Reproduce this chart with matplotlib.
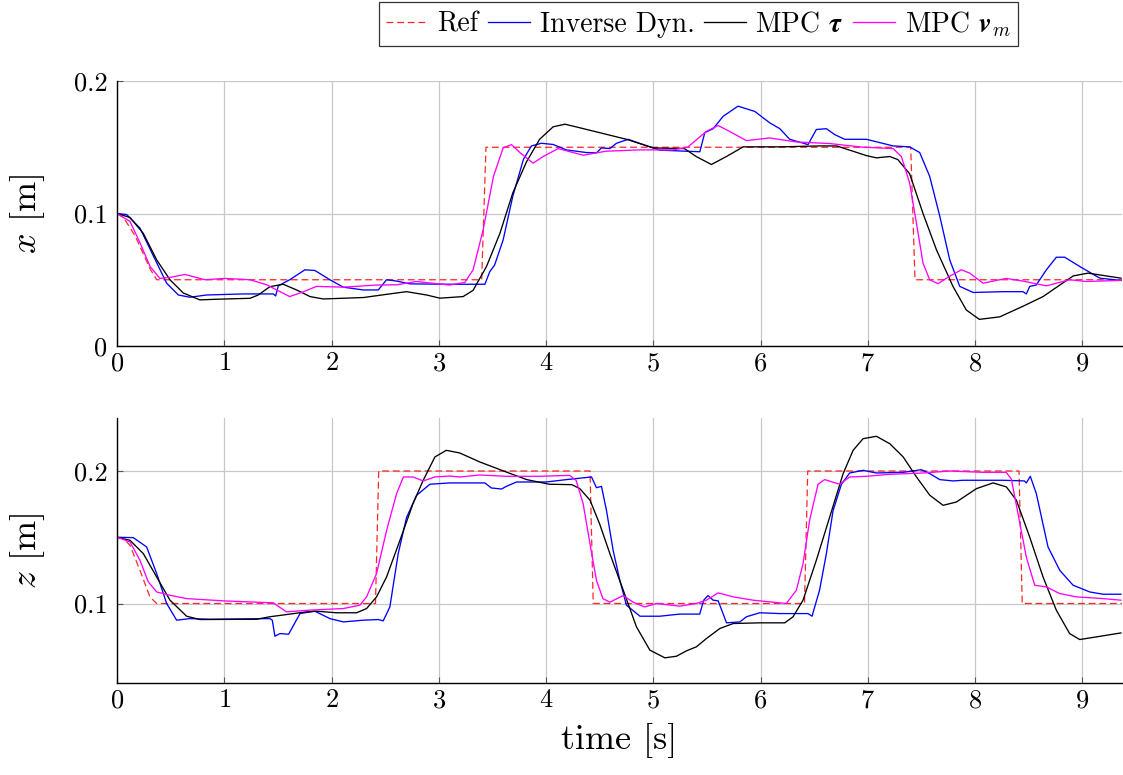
#!/usr/bin/env python3
"""
Tracking of x and z position: reference vs. Inverse Dyn. vs. MPC variants
"""

import matplotlib
matplotlib.use('Agg')
import matplotlib.pyplot as plt
from matplotlib.ticker import FuncFormatter

# ---- x position (top panel) ----
x_ref_t = [0, 0.06, 0.17, 0.31, 0.37, 3.40, 3.44, 7.40, 7.44, 9.37]
x_ref_v = [0.1, 0.097, 0.083, 0.058, 0.05, 0.05, 0.15, 0.15, 0.05, 0.05]

x_inv_t = [0, 0.09, 0.214, 0.339, 0.463, 0.572, 0.68, 0.836, 1.178, 1.457, 1.479, 1.504, 1.61,
           1.752, 1.845, 1.985, 2.11, 2.296, 2.436, 2.513, 2.607, 2.73, 3.10, 3.43, 3.476, 3.52,
           3.60, 3.69, 3.79, 3.864, 3.957, 4.066, 4.19, 4.377, 4.47, 4.517, 4.595, 4.657, 4.766,
           4.906, 5.06, 5.31, 5.434, 5.48, 5.558, 5.652, 5.79, 5.947, 6.086, 6.18, 6.272, 6.443,
           6.52, 6.614, 6.69, 6.785, 6.987, 7.236, 7.39, 7.484, 7.577, 7.671, 7.764, 7.857, 7.982,
           8.26, 8.447, 8.478, 8.51, 8.57, 8.665, 8.758, 8.836, 8.976, 9.163, 9.36]
x_inv_v = [0.1, 0.0992, 0.089, 0.068, 0.0474, 0.0385, 0.0368, 0.0385, 0.0393, 0.0393, 0.0378,
           0.0454, 0.050, 0.0575, 0.057, 0.050, 0.0444, 0.0423, 0.0423, 0.050, 0.049, 0.0469,
           0.0466, 0.0466, 0.0562, 0.061, 0.080, 0.113, 0.141, 0.151, 0.153, 0.1521, 0.148, 0.146,
           0.1458, 0.1495, 0.149, 0.153, 0.156, 0.152, 0.1478, 0.147, 0.1466, 0.161, 0.164, 0.1734,
           0.181, 0.177, 0.1684, 0.164, 0.156, 0.152, 0.1634, 0.164, 0.1596, 0.156, 0.156, 0.151,
           0.1503, 0.146, 0.128, 0.098, 0.065, 0.045, 0.0404, 0.041, 0.041, 0.0393, 0.045, 0.046,
           0.0575, 0.067, 0.067, 0.060, 0.0512, 0.0495]

x_tau_t = [0, 0.121, 0.245, 0.37, 0.494, 0.618, 0.773, 0.93, 1.24, 1.317, 1.426, 1.55, 1.674, 1.8,
           1.923, 2.3, 2.513, 2.7, 2.886, 3.01, 3.227, 3.32, 3.445, 3.57, 3.69, 3.818, 3.94, 4.066,
           4.176, 4.32, 4.5, 4.75, 5.0, 5.29, 5.40, 5.542, 5.682, 5.838, 6.18, 6.55, 6.71, 6.862,
           6.987, 7.08, 7.205, 7.28, 7.39, 7.515, 7.64, 7.794, 7.918, 8.04, 8.23, 8.447, 8.634,
           8.79, 8.916, 9.053, 9.36]
x_tau_v = [0.1, 0.097, 0.085, 0.065, 0.050, 0.040, 0.0348, 0.0353, 0.036, 0.0385, 0.0448, 0.0466,
           0.0423, 0.0373, 0.0355, 0.0366, 0.039, 0.041, 0.0385, 0.0361, 0.0373, 0.042, 0.060,
           0.085, 0.1155, 0.139, 0.156, 0.1654, 0.1674, 0.1646, 0.161, 0.156, 0.1495, 0.149, 0.143,
           0.137, 0.143, 0.1503, 0.1503, 0.151, 0.151, 0.147, 0.1437, 0.142, 0.143, 0.1407, 0.130,
           0.100, 0.0726, 0.045, 0.0272, 0.0201, 0.022, 0.030, 0.0373, 0.046, 0.0529, 0.055, 0.0512]

x_vm_t = [0, 0.121, 0.214, 0.308, 0.40, 0.51, 0.634, 0.82, 1.006, 1.24, 1.395, 1.61, 1.74, 1.86,
          2.11, 2.42, 2.61, 2.79, 3.10, 3.243, 3.32, 3.414, 3.51, 3.60, 3.678, 3.756, 3.88, 3.973,
          4.113, 4.346, 4.56, 4.87, 5.18, 5.32, 5.495, 5.605, 5.71, 5.868, 6.085, 6.334, 6.645,
          6.96, 7.236, 7.313, 7.39, 7.453, 7.515, 7.577, 7.655, 7.76, 7.872, 7.95, 8.075, 8.29,
          8.446, 8.665, 8.88, 9.037, 9.36]
x_vm_v = [0.1, 0.094, 0.078, 0.060, 0.051, 0.052, 0.054, 0.050, 0.051, 0.050, 0.0462, 0.0373,
          0.041, 0.045, 0.0444, 0.046, 0.0462, 0.0487, 0.046, 0.048, 0.0575, 0.0878, 0.128, 0.1495,
          0.152, 0.146, 0.138, 0.143, 0.149, 0.144, 0.147, 0.148, 0.148, 0.150, 0.162, 0.1664,
          0.162, 0.155, 0.157, 0.154, 0.1528, 0.150, 0.149, 0.143, 0.123, 0.093, 0.0625, 0.050,
          0.047, 0.0525, 0.0575, 0.055, 0.0474, 0.051, 0.049, 0.0454, 0.050, 0.0487, 0.0495]

# ---- z position (bottom panel) ----
z_ref_t = [0, 0.06, 0.121, 0.214, 0.307, 0.37, 2.41, 2.44, 4.41, 4.44, 6.41, 6.44, 8.41, 8.44, 9.37]
z_ref_v = [0.15, 0.149, 0.144, 0.125, 0.105, 0.1, 0.1, 0.2, 0.2, 0.1, 0.1, 0.2, 0.2, 0.1, 0.1]

z_inv_t = [0, 0.152, 0.276, 0.37, 0.463, 0.556, 0.68, 0.867, 1.426, 1.448, 1.472, 1.519, 1.6,
           1.706, 1.845, 1.985, 2.11, 2.296, 2.436, 2.482, 2.544, 2.622, 2.7, 2.793, 2.917, 3.10,
           3.43, 3.49, 3.585, 3.63, 3.725, 4.0, 4.19, 4.424, 4.47, 4.517, 4.564, 4.626, 4.688,
           4.75, 4.876, 5.06, 5.246, 5.433, 5.47, 5.51, 5.558, 5.605, 5.683, 5.807, 5.869, 5.993,
           6.18, 6.443, 6.48, 6.55, 6.614, 6.676, 6.754, 6.831, 6.956, 7.08, 7.33, 7.5, 7.578,
           7.671, 7.795, 7.888, 8.26, 8.46, 8.478, 8.515, 8.571, 8.68, 8.79, 8.914, 9.07, 9.193,
           9.36]
z_inv_v = [0.150, 0.1497, 0.1427, 0.1226, 0.100, 0.0874, 0.0886, 0.0881, 0.0886, 0.0874, 0.0753,
           0.0773, 0.0768, 0.0924, 0.0942, 0.0886, 0.0861, 0.0874, 0.0879, 0.0869, 0.0974, 0.1377,
           0.165, 0.1816, 0.190, 0.191, 0.191, 0.1872, 0.1864, 0.1884, 0.1917, 0.1917, 0.1935,
           0.1955, 0.1874, 0.1884, 0.170, 0.140, 0.1175, 0.0987, 0.0904, 0.0904, 0.092, 0.092,
           0.1025, 0.106, 0.1025, 0.102, 0.0854, 0.0861, 0.090, 0.093, 0.0924, 0.0924, 0.0904,
           0.110, 0.1377, 0.170, 0.190, 0.1985, 0.2005, 0.1985, 0.199, 0.201, 0.198, 0.1935,
           0.1925, 0.193, 0.193, 0.1925, 0.191, 0.196, 0.183, 0.1427, 0.125, 0.1138, 0.1087,
           0.107, 0.107]

z_tau_t = [0, 0.121, 0.245, 0.37, 0.494, 0.649, 0.773, 1.3, 1.426, 1.612, 1.767, 1.86, 2.047,
           2.234, 2.327, 2.42, 2.513, 2.638, 2.76, 2.855, 2.964, 3.07, 3.196, 3.383, 3.63, 3.82,
           4.03, 4.24, 4.315, 4.41, 4.5, 4.595, 4.72, 4.843, 4.968, 5.108, 5.216, 5.31, 5.402,
           5.496, 5.62, 5.745, 5.993, 6.226, 6.303, 6.396, 6.52, 6.645, 6.77, 6.863, 6.956, 7.08,
           7.205, 7.33, 7.454, 7.578, 7.702, 7.826, 8.013, 8.168, 8.292, 8.385, 8.51, 8.634,
           8.758, 8.882, 8.976, 9.131, 9.36]
z_tau_v = [0.150, 0.1477, 0.1377, 0.120, 0.1025, 0.0904, 0.0879, 0.0881, 0.090, 0.092, 0.0937,
           0.0942, 0.093, 0.093, 0.0962, 0.105, 0.120, 0.1477, 0.1754, 0.193, 0.2106, 0.2156,
           0.2136, 0.2068, 0.1992, 0.1935, 0.190, 0.1897, 0.1867, 0.178, 0.160, 0.1377, 0.110,
           0.0824, 0.0648, 0.059, 0.0602, 0.0643, 0.0673, 0.0736, 0.0811, 0.0849, 0.0854, 0.0854,
           0.090, 0.1025, 0.1326, 0.1653, 0.198, 0.2156, 0.2244, 0.2262, 0.2206, 0.2106, 0.1955,
           0.1817, 0.1741, 0.1766, 0.1867, 0.191, 0.188, 0.178, 0.150, 0.120, 0.0949, 0.0773,
           0.0728, 0.0748, 0.0778]

z_vm_t = [0, 0.121, 0.214, 0.292, 0.37, 0.494, 0.649, 0.99, 1.457, 1.58, 1.8, 2.11, 2.264, 2.327,
          2.42, 2.513, 2.607, 2.67, 2.76, 2.855, 2.964, 3.10, 3.196, 3.383, 3.63, 3.94, 4.22,
          4.28, 4.346, 4.41, 4.47, 4.53, 4.595, 4.72, 4.812, 4.92, 5.03, 5.246, 5.4, 5.495, 5.605,
          5.745, 5.93, 6.18, 6.24, 6.334, 6.396, 6.458, 6.536, 6.598, 6.738, 6.831, 6.987, 7.205,
          7.516, 7.764, 8.075, 8.29, 8.338, 8.4, 8.478, 8.556, 8.665, 8.79, 8.945, 9.193, 9.36]
z_vm_v = [0.150, 0.1465, 0.1326, 0.1163, 0.1087, 0.1062, 0.1037, 0.102, 0.1005, 0.0937, 0.095,
          0.0962, 0.0987, 0.105, 0.1226, 0.155, 0.183, 0.1955, 0.1955, 0.1925, 0.1955, 0.1962,
          0.1955, 0.197, 0.196, 0.196, 0.1967, 0.193, 0.1754, 0.145, 0.1175, 0.1037, 0.101, 0.106,
          0.101, 0.0974, 0.100, 0.098, 0.100, 0.1025, 0.108, 0.105, 0.1025, 0.1005, 0.100, 0.110,
          0.130, 0.163, 0.190, 0.1935, 0.190, 0.1955, 0.196, 0.1975, 0.1985, 0.200, 0.199, 0.199,
          0.194, 0.168, 0.135, 0.1138, 0.1125, 0.1075, 0.105, 0.1037, 0.1025]

labels = ['Ref', 'Inverse Dyn.', r'MPC $\boldsymbol{\tau}$', r'MPC $\boldsymbol{v}_m$']
colors = ['red', '#0000ff', 'black', '#ff00ff']

plt.rcParams['font.family'] = 'serif'
plt.rcParams['font.serif'] = ['cmr10', 'DejaVu Serif']
plt.rcParams['mathtext.fontset'] = 'cm'
plt.rcParams['axes.formatter.use_mathtext'] = True
plt.rcParams['axes.unicode_minus'] = False


def style_axis(ax, ylim, yticks):
    ax.set_xlim(0, 9.37)
    ax.set_ylim(*ylim)
    ax.set_xticks(range(10))
    ax.set_yticks(yticks)
    ax.yaxis.set_major_formatter(FuncFormatter(lambda v, p: f'{v:g}'))
    ax.grid(True, color='#c8c8c8', linewidth=0.9)
    ax.set_axisbelow(True)
    for s in ['top', 'right']:
        ax.spines[s].set_visible(False)
    for s in ['left', 'bottom']:
        ax.spines[s].set_linewidth(1.0)
    ax.tick_params(direction='in', length=4, width=0.8, color='#555555', labelsize=19)
    ax.tick_params(axis='x', pad=4)
    ax.tick_params(axis='y', pad=7)


def draw(ax, series):
    lines = []
    for (t, v), lab, col in zip(series, labels, colors):
        if lab == 'Ref':
            ln, = ax.plot(t, v, color=col, lw=0.9, alpha=0.85, dashes=(5.5, 3), label=lab)
        else:
            ln, = ax.plot(t, v, color=col, lw=0.95, label=lab)
        lines.append(ln)
    return lines


fig = plt.figure(figsize=(11.23, 7.75), dpi=100)
ax1 = fig.add_axes([117 / 1123, 1 - 346 / 775, 1005 / 1123, 265 / 775])
ax2 = fig.add_axes([117 / 1123, 1 - 683 / 775, 1005 / 1123, 265 / 775])

handles = draw(ax1, [(x_ref_t, x_ref_v), (x_inv_t, x_inv_v), (x_tau_t, x_tau_v), (x_vm_t, x_vm_v)])
draw(ax2, [(z_ref_t, z_ref_v), (z_inv_t, z_inv_v), (z_tau_t, z_tau_v), (z_vm_t, z_vm_v)])

style_axis(ax1, (0, 0.2), [0, 0.1, 0.2])
style_axis(ax2, (0.04, 0.24), [0.1, 0.2])

ax1.set_ylabel(r'$x$ [m]', fontsize=26)
ax2.set_ylabel(r'$z$ [m]', fontsize=26)
ax1.yaxis.set_label_coords(-0.07, 0.5)
ax2.yaxis.set_label_coords(-0.07, 0.5)
ax2.set_xlabel('time [s]', fontsize=26, labelpad=8)

leg = fig.legend(handles, labels, loc='upper left', bbox_to_anchor=(379 / 1123, 1 - 2 / 775),
                 ncol=4, fontsize=20, frameon=True, fancybox=False, edgecolor='black',
                 handlelength=1.5, handletextpad=0.35, columnspacing=0.35, borderpad=0.25,
                 borderaxespad=0)
leg.get_frame().set_linewidth(0.9)

plt.savefig('out.png', dpi=100)
print("saved out.png")
